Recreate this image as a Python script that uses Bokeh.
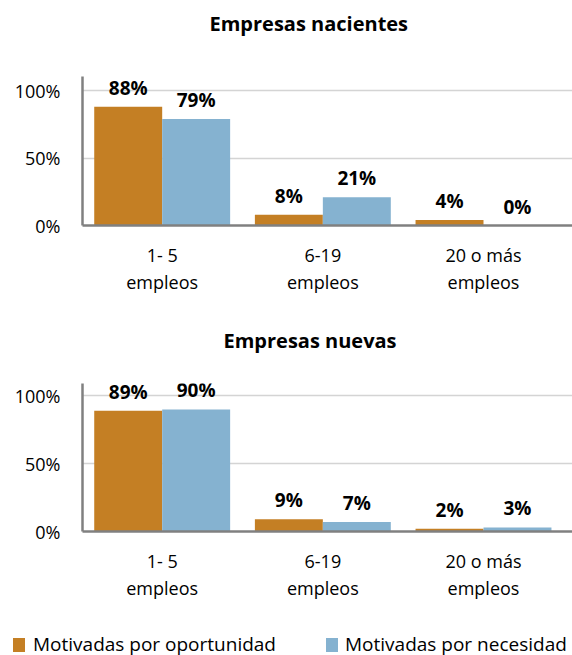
from bokeh.plotting import figure
from bokeh.models import (ColumnDataSource, Range1d, FixedTicker, PrintfTickFormatter,
                          LabelSet, Title, Div)
from bokeh.core.properties import value
from bokeh.transform import dodge
from bokeh.layouts import column
from bokeh.embed import file_html
from bokeh.resources import INLINE

# ---- data ----
categories = ["1- 5\nempleos", "6-19\nempleos", "20 o más\nempleos"]
series = ["Motivadas por oportunidad", "Motivadas por necesidad"]
panel_titles = ["Empresas nacientes", "Empresas nuevas"]
nacientes_oportunidad = [88, 8, 4]
nacientes_necesidad = [79, 21, 0]
nuevas_oportunidad = [89, 9, 2]
nuevas_necesidad = [90, 7, 3]
y_ticks = [0, 50, 100]

ORANGE = "#C47F24"
BLUE = "#85B2D0"
AXIS = "#808080"
GRID = "#D4D4D4"
FONT = "Open Sans"
W = 572
BAR_W = 0.423
OFF = 0.2115


def make_panel(title, title_offset, spacer, opp, nec, height, top_border,
               bottom_border, y_end):
    pos = list(range(len(categories)))
    src = ColumnDataSource(dict(
        pos=pos, opp=opp, nec=nec,
        opp_lbl=[f"{v}%" for v in opp], nec_lbl=[f"{v}%" for v in nec]))
    p = figure(width=W, height=height,
               x_range=Range1d(-0.496, 2.554), y_range=Range1d(0, y_end),
               output_backend="svg", toolbar_location=None, title=None,
               min_border_left=82, min_border_right=0,
               min_border_top=top_border, min_border_bottom=bottom_border)
    p.title = Title(text=title, align="left", offset=title_offset,
                    text_font=FONT, text_font_style="bold",
                    text_font_size="20px", text_color="black")
    # empty spacer between frame and title
    p.add_layout(Title(text=" ", text_font_size="1px", standoff=spacer), "above")
    p.outline_line_color = None
    p.background_fill_color = "white"
    p.border_fill_color = "white"
    p.xgrid.visible = False
    p.ygrid.grid_line_color = GRID
    p.ygrid.grid_line_width = 1.5

    p.vbar(x=dodge("pos", -OFF, range=p.x_range), top="opp", width=BAR_W,
           source=src, fill_color=ORANGE, line_color=None)
    p.vbar(x=dodge("pos", OFF, range=p.x_range), top="nec", width=BAR_W,
           source=src, fill_color=BLUE, line_color=None)

    for xs, col in ((-OFF, "opp"), (OFF, "nec")):
        p.add_layout(LabelSet(x=dodge("pos", xs, range=p.x_range), y=col,
                              text=col + "_lbl", source=src, text_align="center",
                              text_baseline="alphabetic", y_offset=12,
                              text_font=value(FONT), text_font_style="bold",
                              text_font_size="19px", text_color="black"))

    p.xaxis.ticker = FixedTicker(ticks=pos)
    p.xaxis.major_label_overrides = {i: c for i, c in enumerate(categories)}
    p.yaxis.ticker = FixedTicker(ticks=y_ticks)
    p.yaxis.formatter = PrintfTickFormatter(format="%d%%")
    for ax in (p.xaxis, p.yaxis):
        ax.axis_line_color = AXIS
        ax.axis_line_width = 2.5
        ax.major_tick_line_color = None
        ax.minor_tick_line_color = None
        ax.major_tick_out = 0
        ax.major_tick_in = 0
        ax.major_label_text_font = FONT
        ax.major_label_text_font_size = "18px"
        ax.major_label_text_color = "black"
    p.xaxis.major_label_standoff = 17
    p.xaxis.major_label_text_line_height = 1.15
    p.yaxis.major_label_standoff = 22
    return p


p1 = make_panel(panel_titles[0], 127, 32, nacientes_oportunidad, nacientes_necesidad,
                height=310, top_border=76, bottom_border=85, y_end=110.4)
p2 = make_panel(panel_titles[1], 141, 22, nuevas_oportunidad, nuevas_necesidad,
                height=310, top_border=73, bottom_border=89, y_end=109.1)

# legend row (HTML text, squares coloured like the bars)
legend_html = (
    f'<div style="position:relative;width:{W}px;height:35px;overflow:hidden;'
    f'font-family:\'{FONT}\';font-size:19px;line-height:19px;color:#000;">'
    f'<span style="position:absolute;left:13px;top:18px;width:12px;height:13.5px;'
    f'background:{ORANGE};"></span>'
    f'<span style="position:absolute;left:33px;top:14.5px;white-space:nowrap;">'
    f'{series[0]}</span>'
    f'<span style="position:absolute;left:326px;top:18px;width:12px;height:13.5px;'
    f'background:{BLUE};"></span>'
    f'<span style="position:absolute;left:345px;top:14.5px;white-space:nowrap;">'
    f'{series[1]}</span></div>'
)
legend = Div(text=legend_html, width=W, height=35, margin=0,
             styles={"margin": "0", "padding": "0"})

layout = column(p1, p2, legend, spacing=0)
open("out.html", "w").write(file_html(layout, INLINE))
